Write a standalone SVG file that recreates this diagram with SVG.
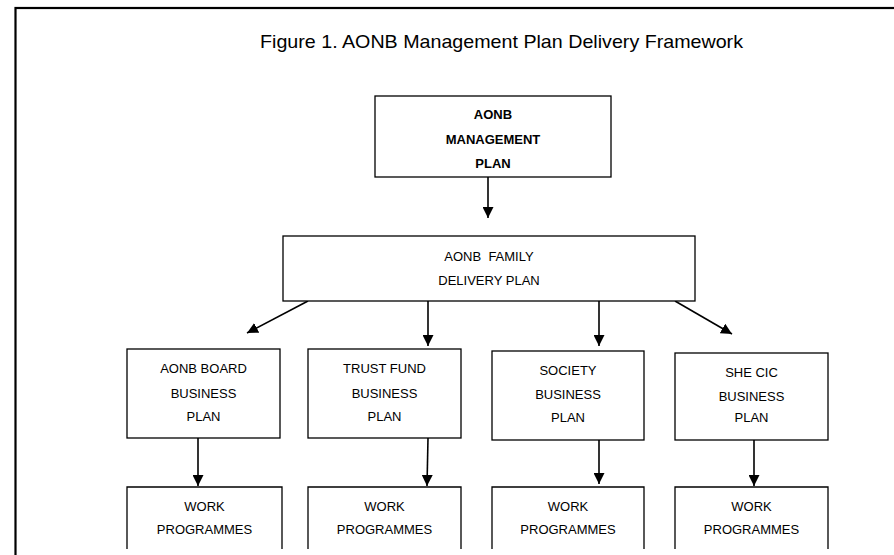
<svg xmlns="http://www.w3.org/2000/svg" width="894" height="555" viewBox="0 0 894 555">
<style>
.box{fill:#fff;stroke:#000;stroke-width:1.3}
.t{font-family:"Liberation Sans",Arial,sans-serif;font-size:13px;fill:#000;text-anchor:middle}
.b{font-weight:bold}
.c{stroke:#000;stroke-width:1.6;fill:none;marker-end:url(#ah)}
</style>
<defs>
<marker id="ah" markerUnits="userSpaceOnUse" markerWidth="12" markerHeight="11" refX="11" refY="5.5" orient="auto">
<path d="M0,0 L11,5.5 L0,11 z" fill="#000"/>
</marker>
</defs>
<rect width="894" height="555" fill="#fff"/>
<rect x="15.5" y="8" width="900" height="600" fill="none" stroke="#000" stroke-width="2.2"/>
<text x="501.5" y="48" font-family="Liberation Sans,Arial,sans-serif" font-size="19" text-anchor="middle" textLength="483" lengthAdjust="spacingAndGlyphs">Figure 1. AONB Management Plan Delivery Framework</text>

<g id="connectors">
<line class="c" x1="488" y1="177" x2="488" y2="218"/>
<line class="c" x1="308" y1="301" x2="247" y2="333"/>
<line class="c" x1="428" y1="301" x2="428" y2="346"/>
<line class="c" x1="599" y1="301" x2="599" y2="346"/>
<line class="c" x1="675" y1="301" x2="732" y2="334"/>
<line class="c" x1="198" y1="438" x2="198" y2="486"/>
<line class="c" x1="428" y1="438" x2="427" y2="486"/>
<line class="c" x1="599" y1="440" x2="599" y2="484"/>
<line class="c" x1="754" y1="440" x2="754" y2="486"/>
</g>

<g id="mgmt-plan">
<rect class="box" x="375" y="96" width="236" height="81"/>
<text class="t b" x="493" y="119">AONB</text>
<text class="t b" x="493" y="144">MANAGEMENT</text>
<text class="t b" x="493" y="168">PLAN</text>
</g>

<g id="family-plan">
<rect class="box" x="283" y="236" width="412" height="65"/>
<text class="t" x="489" y="261" xml:space="preserve">AONB  FAMILY</text>
<text class="t" x="489" y="285">DELIVERY PLAN</text>
</g>

<g id="board-plan">
<rect class="box" x="127" y="349" width="153" height="89"/>
<text class="t" x="203.5" y="373">AONB BOARD</text>
<text class="t" x="203.5" y="398">BUSINESS</text>
<text class="t" x="203.5" y="421">PLAN</text>
</g>

<g id="trust-plan">
<rect class="box" x="308" y="349" width="153" height="89"/>
<text class="t" x="384.5" y="373">TRUST FUND</text>
<text class="t" x="384.5" y="398">BUSINESS</text>
<text class="t" x="384.5" y="421">PLAN</text>
</g>

<g id="society-plan">
<rect class="box" x="492" y="351" width="152" height="89"/>
<text class="t" x="568" y="375">SOCIETY</text>
<text class="t" x="568" y="399">BUSINESS</text>
<text class="t" x="568" y="422">PLAN</text>
</g>

<g id="shecic-plan">
<rect class="box" x="675" y="353" width="153" height="87"/>
<text class="t" x="751.5" y="377">SHE CIC</text>
<text class="t" x="751.5" y="401">BUSINESS</text>
<text class="t" x="751.5" y="422">PLAN</text>
</g>

<g id="work-1">
<path class="box" fill="none" d="M127,549 V487 H282 V549"/>
<text class="t" x="204.5" y="511">WORK</text>
<text class="t" x="204.5" y="534">PROGRAMMES</text>
</g>

<g id="work-2">
<path class="box" d="M308,549 V487 H461 V549"/>
<text class="t" x="384.5" y="511">WORK</text>
<text class="t" x="384.5" y="534">PROGRAMMES</text>
</g>

<g id="work-3">
<path class="box" d="M492,549 V487 H644 V549"/>
<text class="t" x="568" y="511">WORK</text>
<text class="t" x="568" y="534">PROGRAMMES</text>
</g>

<g id="work-4">
<path class="box" d="M675,549 V487 H828 V549"/>
<text class="t" x="751.5" y="511">WORK</text>
<text class="t" x="751.5" y="534">PROGRAMMES</text>
</g>
</svg>
